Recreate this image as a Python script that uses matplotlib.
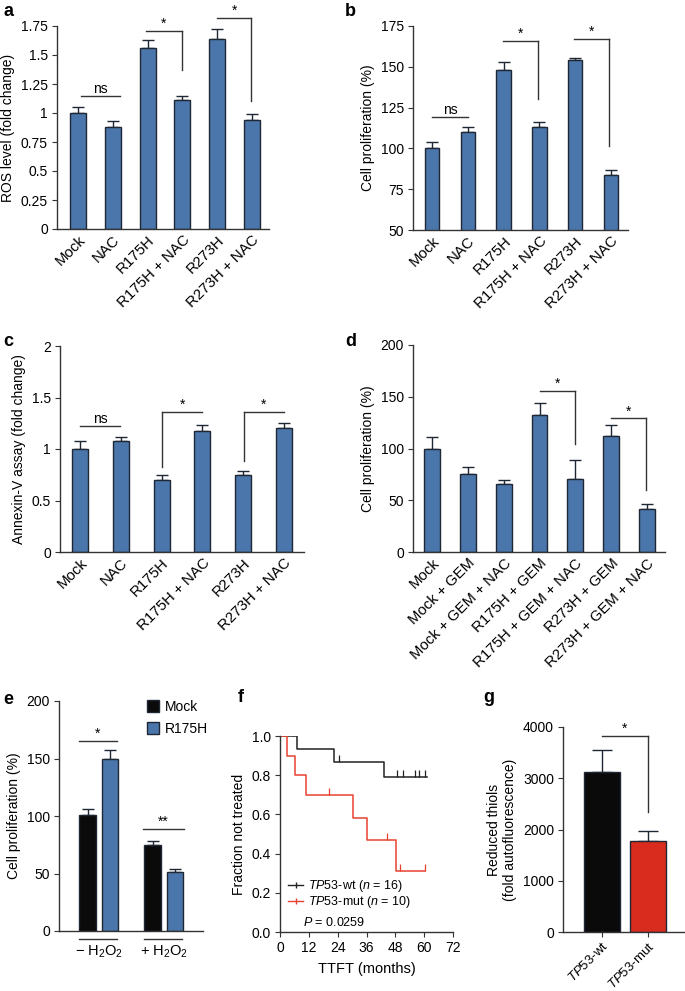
import numpy as np
import matplotlib
matplotlib.use('Agg')
import matplotlib.pyplot as plt
from matplotlib.lines import Line2D
from matplotlib.patches import Patch

plt.rcParams['font.family'] = ['Liberation Sans', 'DejaVu Sans']
plt.rcParams['mathtext.fontset'] = 'custom'
plt.rcParams['mathtext.rm'] = 'Liberation Sans'
plt.rcParams['mathtext.it'] = 'Liberation Sans:italic'
plt.rcParams['font.size'] = 10

BLUE = '#4a76ab'
EDGE = '#1e2733'
AXC = '#333333'
RED_BAR = '#d92b1e'
RED_LINE = '#e8412f'

# ---- data ----
nac_groups = ['Mock', 'NAC', 'R175H', 'R175H + NAC', 'R273H', 'R273H + NAC']
ros_mean = [1.00, 0.88, 1.56, 1.11, 1.64, 0.94]
ros_err = [0.05, 0.05, 0.07, 0.04, 0.08, 0.05]
prolif_mean = [100, 110, 148, 113, 154, 84]
prolif_err = [4, 3, 5, 3, 1.5, 2.5]
annexin_mean = [1.00, 1.08, 0.70, 1.17, 0.75, 1.20]
annexin_err = [0.08, 0.04, 0.05, 0.06, 0.04, 0.05]

gem_groups = ['Mock', 'Mock + GEM', 'Mock + GEM + NAC', 'R175H + GEM',
              'R175H + GEM + NAC', 'R273H + GEM', 'R273H + GEM + NAC']
gem_mean = [100, 75, 66, 132, 71, 112, 42]
gem_err = [11, 7, 4, 12, 18, 11, 4]

h2o2_groups = ['\u2212 H$_2$O$_2$', '+ H$_2$O$_2$']
h2o2_mock = [101, 75]
h2o2_mock_err = [5, 3.5]
h2o2_r175h = [150, 51]
h2o2_r175h_err = [7, 2.5]

wt_times = [0, 6.9, 22.5, 43.1, 61.0]
wt_surv = [1.0, 0.933, 0.867, 0.79, 0.79]
wt_censor = [5.6, 24.7, 48.9, 51.2, 56.3, 58.0, 60.5]
mut_times = [0, 3.0, 6.2, 10.8, 30.3, 36.1, 48.2, 60.5]
mut_surv = [1.0, 0.9, 0.8, 0.7, 0.583, 0.467, 0.311, 0.311]
mut_censor = [20.4, 44.5, 50.0, 60.5]

thiol_groups = ['$\\it{TP53}$-wt', '$\\it{TP53}$-mut']
thiol_mean = [3130, 1785]
thiol_err = [425, 190]

W, H = 685, 991
fig = plt.figure(figsize=(W / 100, H / 100), dpi=100)


def add_ax(left, top, right, bottom):
    return fig.add_axes([left / W, 1 - bottom / H, (right - left) / W, (bottom - top) / H])


def style(ax, xticks=False):
    for s in ['top', 'right']:
        ax.spines[s].set_visible(False)
    for s in ['left', 'bottom']:
        ax.spines[s].set_color(AXC)
        ax.spines[s].set_linewidth(1.0)
    ax.tick_params(axis='y', direction='out', length=3.5, color=AXC, labelsize=10, pad=3)
    ax.tick_params(axis='x', direction='out', length=3.5 if xticks else 0, color=AXC, pad=3)


def bars(ax, x, mean, err, color, width):
    ax.bar(x, mean, width=width, color=color, edgecolor=EDGE, linewidth=1.0, zorder=2)
    ax.errorbar(x, mean, yerr=[np.zeros(len(err)), err], fmt='none', ecolor=EDGE,
                elinewidth=1.0, capsize=4, capthick=1.0, zorder=1)


def bracket(ax, x1, x2, y, ydrop, drop_at, label):
    xd = x2 if drop_at == 'right' else x1
    ax.plot([x1, x2], [y, y], color=AXC, lw=1.0, clip_on=False)
    ax.plot([xd, xd], [y, ydrop], color=AXC, lw=1.0, clip_on=False)
    ax.text((x1 + x2) / 2, y, label, ha='center', va='bottom', fontsize=10)


def hline(ax, x1, x2, y, label):
    ax.plot([x1, x2], [y, y], color=AXC, lw=1.0, clip_on=False)
    ax.text((x1 + x2) / 2, y, label, ha='center', va='bottom', fontsize=10)


def rot_labels(ax, labels, size=10.8):
    ax.set_xticks(range(len(labels)))
    ax.set_xticklabels(labels, rotation=45, ha='right', rotation_mode='anchor', fontsize=size)


# ---- a ----
ax = add_ax(57, 26, 269, 229)
x = np.arange(len(nac_groups))
bars(ax, x, ros_mean, ros_err, BLUE, 0.46)
ax.set_ylim(0, 1.75)
ax.set_xlim(-0.6, 5.49)
ax.set_yticks([0, 0.25, 0.5, 0.75, 1, 1.25, 1.5, 1.75])
ax.set_yticklabels(['0', '0.25', '0.5', '0.75', '1', '1.25', '1.5', '1.75'])
rot_labels(ax, nac_groups)
ax.set_ylabel('ROS level (fold change)', fontsize=10, labelpad=4)
style(ax)
hline(ax, 0.08, 1.2, 1.15, 'ns')
bracket(ax, 1.96, 2.98, 1.71, 1.37, 'right', '*')
bracket(ax, 4.01, 4.98, 1.82, 1.10, 'right', '*')

# ---- b ----
ax = add_ax(413, 26, 628, 230)
bars(ax, x, prolif_mean, prolif_err, BLUE, 0.4)
ax.set_ylim(50, 175)
ax.set_xlim(-0.53, 5.47)
ax.set_yticks([50, 75, 100, 125, 150, 175])
rot_labels(ax, nac_groups)
ax.set_ylabel('Cell proliferation (%)', fontsize=10, labelpad=4)
style(ax)
hline(ax, 0.0, 1.0, 119, 'ns')
bracket(ax, 1.98, 2.97, 166, 130, 'right', '*')
bracket(ax, 3.97, 4.94, 167, 101.5, 'right', '*')

# ---- c ----
ax = add_ax(60, 346, 304, 552)
bars(ax, x, annexin_mean, annexin_err, BLUE, 0.39)
ax.set_ylim(0, 2)
ax.set_xlim(-0.49, 5.49)
ax.set_yticks([0, 0.5, 1, 1.5, 2])
ax.set_yticklabels(['0', '0.5', '1', '1.5', '2'])
rot_labels(ax, nac_groups)
ax.set_ylabel('Annexin-V assay (fold change)', fontsize=10, labelpad=4)
style(ax)
hline(ax, 0.0, 0.98, 1.22, 'ns')
bracket(ax, 2.02, 2.99, 1.36, 0.825, 'left', '*')
bracket(ax, 4.01, 5.0, 1.36, 0.88, 'left', '*')

# ---- d ----
ax = add_ax(413, 345, 665, 552)
xd = np.arange(len(gem_groups))
bars(ax, xd, gem_mean, gem_err, BLUE, 0.44)
ax.set_ylim(0, 200)
ax.set_xlim(-0.53, 6.5)
ax.set_yticks([0, 50, 100, 150, 200])
rot_labels(ax, gem_groups)
ax.set_ylabel('Cell proliferation (%)', fontsize=10, labelpad=4)
style(ax)
bracket(ax, 3.0, 3.98, 155.5, 104, 'right', '*')
bracket(ax, 5.0, 5.98, 129, 60, 'right', '*')

# ---- e ----
ax = add_ax(59, 701, 203, 931)
xe = np.arange(len(h2o2_groups))
off = 0.17
bars(ax, xe - off, h2o2_mock, h2o2_mock_err, '#0a0a0a', 0.26)
bars(ax, xe + off, h2o2_r175h, h2o2_r175h_err, BLUE, 0.26)
ax.set_ylim(0, 200)
ax.set_xlim(-0.615, 1.6)
ax.set_yticks([0, 50, 100, 150, 200])
ax.set_xticks(xe)
ax.set_xticklabels(h2o2_groups, fontsize=10.5)
ax.set_ylabel('Cell proliferation (%)', fontsize=10, labelpad=4)
style(ax)
ax.tick_params(axis='x', pad=9)
for g in xe:
    ax.plot([g - 0.31, g + 0.28], [-7, -7], color=AXC, lw=1.0, clip_on=False)
hline(ax, -0.31, 0.28, 165, '*')
hline(ax, 0.68, 1.31, 88.7, '**')
ax.legend(handles=[Patch(facecolor='#0a0a0a', edgecolor=EDGE, label='Mock'),
                   Patch(facecolor=BLUE, edgecolor=EDGE, label='R175H')],
          loc='upper left', bbox_to_anchor=(0.57, 1.03), frameon=False, fontsize=10,
          handlelength=0.9, handleheight=0.9, handletextpad=0.4, labelspacing=0.6,
          borderaxespad=0)

# ---- f ----
ax = add_ax(280, 736, 453, 932)
ax.step(wt_times, wt_surv, where='post', color='#222222', lw=1.1)
ax.step(mut_times, mut_surv, where='post', color=RED_LINE, lw=1.1)
wt_c = np.array(wt_surv)[np.searchsorted(wt_times, wt_censor, side='right') - 1]
mut_c = np.array(mut_surv)[np.searchsorted(mut_times, mut_censor, side='right') - 1]
ax.plot(wt_censor, wt_c, ls='none', marker=2, ms=5, mew=0.9, color='#222222')
ax.plot(mut_censor, mut_c, ls='none', marker=2, ms=5, mew=0.9, color=RED_LINE)
ax.set_xlim(0, 72)
ax.set_ylim(0, 1.0)
ax.set_xticks(range(0, 73, 12))
ax.set_yticks(np.arange(0, 1.01, 0.2))
ax.set_yticklabels(['0.0', '0.2', '0.4', '0.6', '0.8', '1.0'])
ax.set_xlabel('TTFT (months)', fontsize=10.5, labelpad=5)
ax.set_ylabel('Fraction not treated', fontsize=10, labelpad=4)
style(ax, xticks=True)
ax.tick_params(axis='x', labelsize=10)
ax.legend(handles=[Line2D([], [], color='#222222', lw=1.0, marker='|', ms=5),
                   Line2D([], [], color=RED_LINE, lw=1.0, marker='|', ms=5)],
          labels=['$\\it{TP53}$-wt ($\\it{n}$ = 16)', '$\\it{TP53}$-mut ($\\it{n}$ = 10)'],
          loc='upper left', bbox_to_anchor=(0.02, 0.30), frameon=False, fontsize=9,
          handlelength=1.2, handletextpad=0.4, labelspacing=0.0, borderaxespad=0)
fig.text(303 / W, 1 - 922 / H, '$\\it{P}$ = 0.0259', fontsize=9, ha='left', va='center')

# ---- g ----
ax = add_ax(563, 727, 684, 932)
xg = np.arange(len(thiol_groups))
ax.bar(xg, thiol_mean, width=0.78, color=['#0a0a0a', RED_BAR], edgecolor=EDGE, linewidth=1.0, zorder=2)
ax.errorbar(xg, thiol_mean, yerr=[np.zeros(2), thiol_err], fmt='none', ecolor=EDGE,
            elinewidth=1.0, capsize=7, capthick=1.0, zorder=1)
ax.set_ylim(0, 4000)
ax.set_xlim(-0.84, 1.79)
ax.set_yticks([0, 1000, 2000, 3000, 4000])
rot_labels(ax, thiol_groups, size=9.5)
ax.set_ylabel('Reduced thiols\n(fold autofluorescence)', fontsize=10, labelpad=4)
style(ax, xticks=True)
ax.tick_params(axis='x', pad=2)
bracket(ax, 0.0, 1.0, 3830, 2335, 'right', '*')

# ---- panel letters ----
for lab, px, py in [('a', 3, 12), ('b', 345, 12), ('c', 3, 341), ('d', 345, 341),
                    ('e', 3, 700), ('f', 238, 697), ('g', 483, 697)]:
    fig.text(px / W, 1 - py / H, lab, fontsize=13, fontweight='bold', va='center', ha='left')

fig.savefig('out.png', dpi=100)
